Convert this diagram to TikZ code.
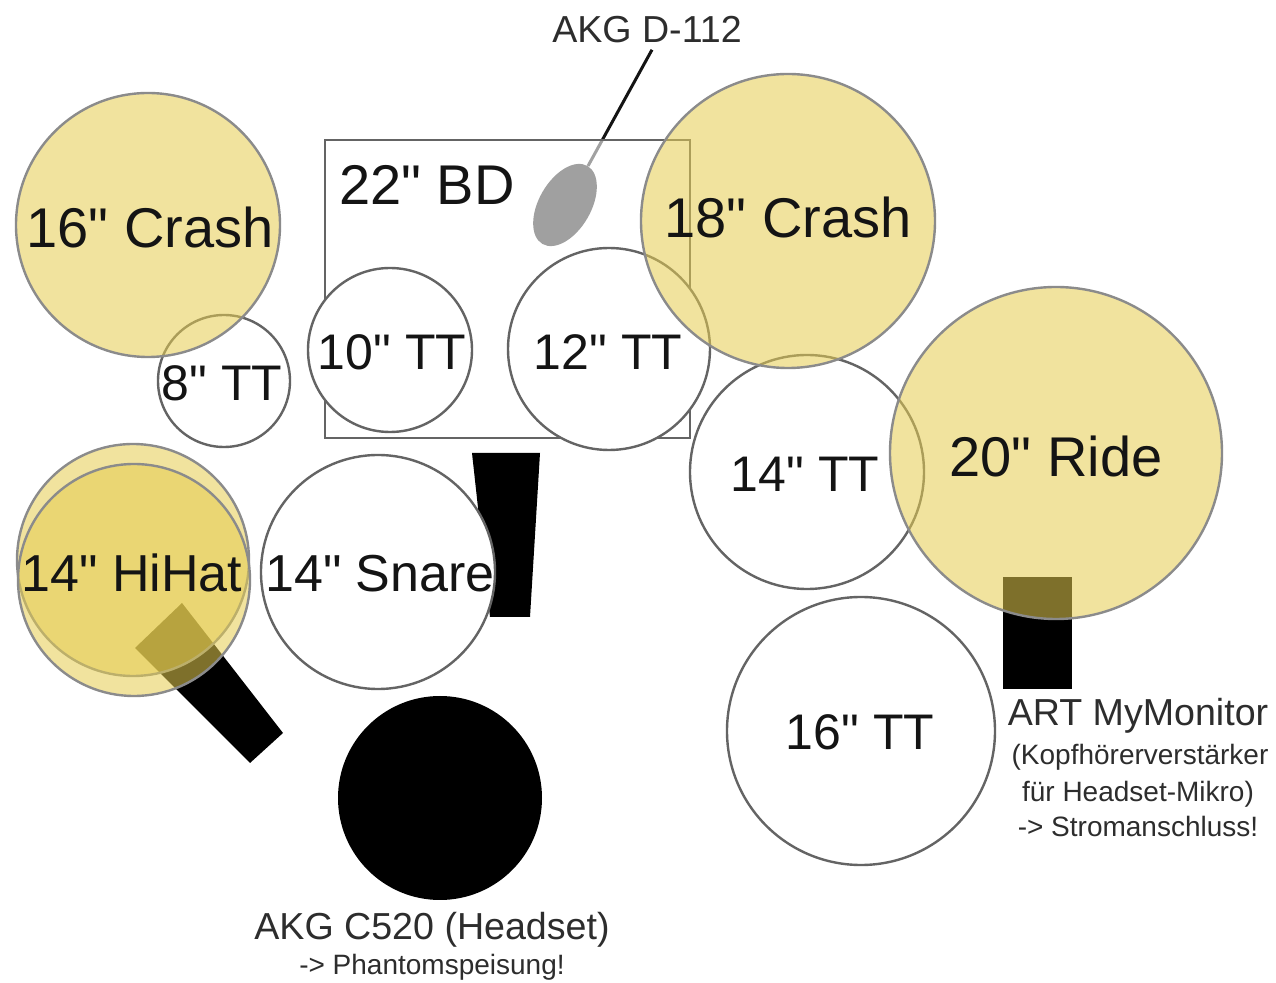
\documentclass[tikz,border=0pt]{standalone}
\usepackage{fontspec}
\setmainfont{Liberation Sans}[Ligatures=TeXOff]
\definecolor{cymbal}{RGB}{230,205,80}
\definecolor{shell}{RGB}{100,100,100}
\definecolor{micgray}{RGB}{160,160,160}
\definecolor{labelink}{RGB}{20,20,20}
\definecolor{noteink}{RGB}{45,45,45}
\tikzset{
  define coordinates/.style={
    execute at begin picture={
      \coordinate (CrashL) at (148,225);
      \coordinate (CrashR) at (788,221);
      \coordinate (Ride)   at (1056,453);
      \coordinate (HatTop) at (133,560);
      \coordinate (HatBot) at (134,580);
      \coordinate (TomE)   at (224,381);
      \coordinate (TomT)   at (390,350);
      \coordinate (TomW)   at (609,349);
      \coordinate (TomF)   at (807,472);
      \coordinate (TomS)   at (861,731);
      \coordinate (Snare)  at (378,572);
      \coordinate (Headset) at (440,798);
      \coordinate (Kick)   at (565,205);
   }
 },
  drum/.style={draw=shell, line width=1.2pt, fill=white},
  cymbalplate/.style={draw=shell!75, line width=1.2pt, fill=cymbal, fill opacity=0.55},
  standfoot/.style={fill=black},
  bigtext/.style={font=\fontsize{28}{34}\selectfont, text=labelink, inner sep=0pt, anchor=base},
  tomtext/.style={font=\fontsize{25}{30}\selectfont, text=labelink, inner sep=0pt, anchor=base},
  mictext/.style={font=\fontsize{18.8}{22}\selectfont, text=noteink, inner sep=0pt, anchor=base},
  notetext/.style={font=\fontsize{14}{17}\selectfont, text=noteink, inner sep=0pt, anchor=base}
}

\begin{document}
\begin{tikzpicture}[x=0.5pt,y=-0.5pt,define coordinates]

\path[use as bounding box, fill=white] (0,0) rectangle (1276,983);

% Kick drum microphone and its label
\node[mictext] (d112) at (647,43) {AKG D-112};
\coordinate (micwire) at (588,166);
\draw[line width=1.5pt, labelink] ([xshift=2.5pt,yshift=-3pt]d112.south) -- (micwire);

% Bass drum (seen from above)
\draw[draw=shell, line width=1.2pt, fill=white, fill opacity=0.6] (325,140) rectangle (690,438);
\fill[micgray, rotate around={-30:(Kick)}] (Kick) ellipse (26 and 45);

% Toms
\draw[drum] (TomE) circle (66);
\draw[drum] (TomT) circle (82);
\draw[drum] (TomW) circle (101);
\draw[drum] (TomF) circle (117);
\draw[drum] (TomS) circle (134);

% Stands and the snare on top of its stand
\fill[standfoot] (472,453) -- (540,453) -- (530,617) -- (490,617) -- cycle;
\draw[drum] (Snare) circle (117);
\fill[standfoot] (182,603) -- (283,733) -- (250,763) -- (135,648) -- cycle;
\fill[standfoot] (1003,577) rectangle (1072,689);

% Headset
\fill[black] (Headset) circle (102);

% Cymbals (transparent)
\draw[cymbalplate] (CrashL) circle (132);
\draw[cymbalplate] (CrashR) circle (147);
\draw[cymbalplate] (Ride) circle (166);
\draw[cymbalplate] (HatTop) circle (116);
\draw[cymbalplate] (HatBot) circle (116);

% Labels
\node[bigtext] (crashl) at (150,248) {16" Crash};
\node[bigtext] (kick)   at (427,205) {22" BD};
\node[bigtext] (crashr) at (788,238) {18" Crash};
\node[bigtext] (ride)   at (1056,477) {20" Ride};
\node[tomtext] (tome)   at (222,401) {8" TT};
\node[tomtext] (tomt)   at (392,370) {10" TT};
\node[tomtext] (tomw)   at (608,370) {12" TT};
\node[tomtext] (tomf)   at (805,492) {14" TT};
\node[tomtext] (toms)   at (860,750) {16" TT};
\node[tomtext, font=\fontsize{26}{30}\selectfont] (hihat) at (132,592) {14" HiHat};
\node[tomtext, font=\fontsize{26}{30}\selectfont] (snare) at (380,592) {14" Snare};

% Notes on headset and monitor
\node[mictext] (c520)    at (432,940) {AKG C520 (Headset)};
\node[notetext] (phantom) at (432,975) {-> Phantomspeisung!};
\node[mictext] (monitor) at (1138,726) {ART MyMonitor};
\node[notetext] (amp)    at (1140,765) {(Kopfhörerverstärker};
\node[notetext] (mikro)  at (1138,802) {für Headset-Mikro)};
\node[notetext] (power)  at (1138,837) {-> Stromanschluss!};

\end{tikzpicture}
\end{document}
